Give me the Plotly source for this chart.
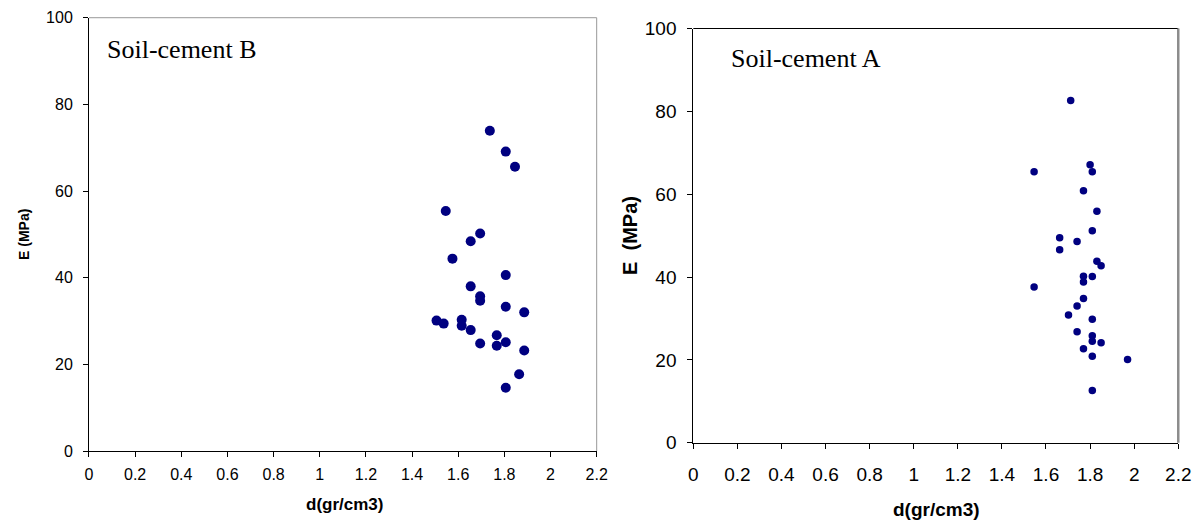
import plotly.graph_objects as go

# Soil-cement B (left panel)
density_b = [1.737, 1.806, 1.846, 1.546, 1.695, 1.654, 1.575, 1.806, 1.654, 1.695,
             1.695, 1.806, 1.886, 1.506, 1.537, 1.615, 1.615, 1.654, 1.767, 1.695,
             1.767, 1.806, 1.886, 1.864, 1.806]
modulus_b = [73.9, 69.1, 65.6, 55.4, 50.2, 48.4, 44.4, 40.6, 38.0, 35.7,
             34.7, 33.3, 32.0, 30.1, 29.4, 30.3, 28.9, 27.9, 26.7, 24.8,
             24.3, 25.1, 23.2, 17.7, 14.6]

# Soil-cement A (right panel)
density_a = [1.712, 1.546, 1.800, 1.810, 1.770, 1.831, 1.810, 1.662, 1.741, 1.662,
             1.831, 1.850, 1.770, 1.810, 1.770, 1.546, 1.770, 1.741, 1.702, 1.810,
             1.741, 1.810, 1.810, 1.850, 1.770, 1.810, 1.970, 1.810]
modulus_a = [82.6, 65.4, 67.1, 65.4, 60.8, 55.9, 51.2, 49.5, 48.6, 46.6,
             43.8, 42.7, 40.2, 40.1, 38.8, 37.6, 34.8, 33.0, 30.8, 29.8,
             26.8, 25.8, 24.5, 24.1, 22.7, 20.9, 20.1, 12.6]

x_ticks = [0, 0.2, 0.4, 0.6, 0.8, 1, 1.2, 1.4, 1.6, 1.8, 2, 2.2]
x_labels = ["0", "0.2", "0.4", "0.6", "0.8", "1", "1.2", "1.4", "1.6", "1.8", "2", "2.2"]
y_ticks = [0, 20, 40, 60, 80, 100]

navy = "#000080"
sans = "Liberation Sans, Arial, sans-serif"
narrow = "Liberation Sans Narrow, Arial Narrow, Liberation Sans, sans-serif"
serif = "Liberation Serif, Times New Roman, serif"

# page body adds an 8px margin, so the figure is sized to fit inside it
W, H = 1184, 514

fig = go.Figure()
fig.add_trace(go.Scatter(x=density_b, y=modulus_b, mode="markers", xaxis="x", yaxis="y",
                         marker=dict(color=navy, size=10, line=dict(width=0))))
fig.add_trace(go.Scatter(x=density_a, y=modulus_a, mode="markers", xaxis="x2", yaxis="y2",
                         marker=dict(color=navy, size=7.5, line=dict(width=0))))

common_x = dict(range=[0, 2.2], tickvals=x_ticks, ticktext=x_labels, showgrid=False,
                zeroline=False, showline=True, linecolor="black", linewidth=1,
                ticks="outside", ticklen=5, tickcolor="black", automargin=False)
common_y = dict(range=[0, 100], tickvals=y_ticks, showgrid=False, zeroline=False,
                showline=True, linecolor="black", linewidth=1,
                ticks="outside", ticklen=5, tickcolor="black", automargin=False)

fig.update_layout(
    width=W, height=H,
    margin=dict(l=0, r=0, t=0, b=0),
    paper_bgcolor="white", plot_bgcolor="white",
    showlegend=False,
    font=dict(family=sans, color="black"),
    xaxis=dict(common_x, domain=[0.0684, 0.4972], anchor="y",
               tickfont=dict(size=16), ticklabelstandoff=4),
    yaxis=dict(common_y, domain=[0.1381, 0.9811], anchor="x",
               tickfont=dict(size=16), ticklabelstandoff=7),
    xaxis2=dict(common_x, domain=[0.5788, 0.9884], anchor="y2",
                tickfont=dict(family=narrow, size=19), ticklabelstandoff=10),
    yaxis2=dict(common_y, domain=[0.1543, 0.9601], anchor="x2",
                tickfont=dict(family=narrow, size=19), ticklabelstandoff=7),
    shapes=[
        # left panel top / right border (gray)
        dict(type="line", xref="x domain", yref="y domain", x0=0, x1=1, y0=1, y1=1,
             line=dict(color="#999999", width=1)),
        dict(type="line", xref="x domain", yref="y domain", x0=1, x1=1, y0=0, y1=1,
             line=dict(color="#999999", width=1)),
        # right panel top (black) / right border (gray)
        dict(type="line", xref="x2 domain", yref="y2 domain", x0=0, x1=1, y0=1, y1=1,
             line=dict(color="black", width=1)),
        dict(type="line", xref="x2 domain", yref="y2 domain", x0=1, x1=1, y0=0, y1=1,
             line=dict(color="#8c8c8c", width=2.5)),
    ],
    annotations=[
        dict(text="Soil-cement B", xref="paper", yref="paper", x=0.0819, y=0.9183,
             xanchor="left", yanchor="middle", showarrow=False,
             font=dict(family=serif, size=26)),
        dict(text="Soil-cement A", xref="paper", yref="paper", x=0.6090, y=0.9027,
             xanchor="left", yanchor="middle", showarrow=False,
             font=dict(family=serif, size=26)),
        # axis titles
        dict(text="<b>d(gr/cm3)</b>", xref="paper", yref="paper", x=0.2838, y=0.035,
             xanchor="center", yanchor="middle", showarrow=False,
             font=dict(family=sans, size=17)),
        dict(text="<b>E (MPa)</b>", xref="paper", yref="paper", x=0.0135, y=0.5603,
             xanchor="center", yanchor="middle", showarrow=False, textangle=-90,
             font=dict(family=sans, size=14)),
        dict(text="<b>d(gr/cm3)</b>", xref="paper", yref="paper", x=0.7846, y=0.0,
             xanchor="center", yanchor="bottom", showarrow=False,
             font=dict(family=sans, size=19)),
        dict(text="<b>E  (MPa)</b>", xref="paper", yref="paper", x=0.5253, y=0.5584,
             xanchor="center", yanchor="middle", showarrow=False, textangle=-90,
             font=dict(family=sans, size=20)),
    ],
)

fig.write_html("out.html")
